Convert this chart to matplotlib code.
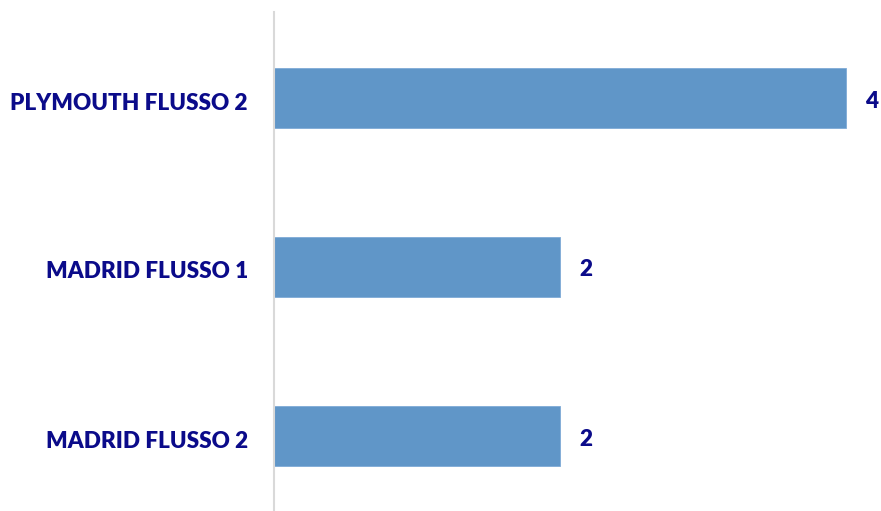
import matplotlib
matplotlib.use("Agg")
import matplotlib.pyplot as plt
import matplotlib.transforms as mtransforms

categories = ["MADRID FLUSSO 2", "MADRID FLUSSO 1", "PLYMOUTH FLUSSO 2"]
values = [2, 2, 4]

bar_color = "#6096C8"
text_color = "#0B0B8A"

W, H = 881, 511
fig = plt.figure(figsize=(W / 100, H / 100), dpi=100)
left, right = 274, 881
top, bottom = 12, 511
ax = fig.add_axes([left / W, 1 - bottom / H, (right - left) / W, (bottom - top) / H])

spacing = 169.0
ax.set_ylim(-(bottom - 436) / spacing, 2 + (98 - top) / spacing)
ax.set_xlim(0, (right - left) / 143.0)

pos = list(range(len(categories)))
ax.barh(pos, values, height=60 / spacing, color=bar_color, edgecolor="#7FAAD6", linewidth=0.6)

for s in ["top", "right", "bottom"]:
    ax.spines[s].set_visible(False)
ax.spines["left"].set_color("#D9D9D9")
ax.spines["left"].set_linewidth(1.5)
ax.set_xticks([])
ax.set_yticks(pos)
ax.set_yticklabels(categories, fontfamily="Lato", fontweight="heavy", fontsize=16.2, color=text_color)
ax.tick_params(axis="y", length=0, pad=26 * 0.72)
shift = mtransforms.ScaledTranslation(0, -3 / 100, fig.dpi_scale_trans)
for lbl in ax.get_yticklabels():
    lbl.set_transform(lbl.get_transform() + shift)

for p, v in zip(pos, values):
    ax.annotate(str(v), (v, p), xytext=(19, -3), textcoords="offset pixels",
                va="center", ha="left", fontfamily="Lato", fontweight="heavy",
                fontsize=16.2, color=text_color)

fig.savefig("out.png", dpi=100)
